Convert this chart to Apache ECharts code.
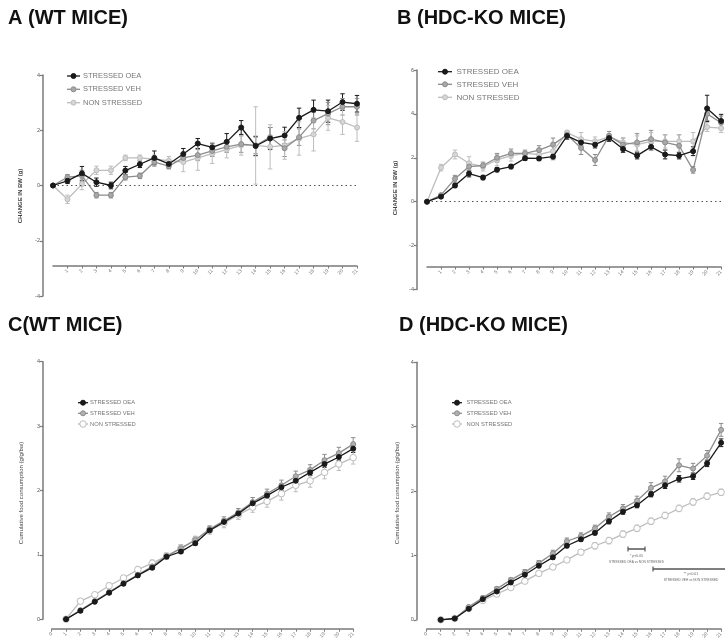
<!DOCTYPE html>
<html>
<head>
<meta charset="utf-8">
<script src="https://cdn.jsdelivr.net/npm/echarts@6/dist/echarts.min.js"></script>
<style>html,body{margin:0;padding:0;background:#fff;}#c{width:725px;height:641px;}</style>
</head>
<body>
<div id="c"></div>
<script>
// ---------- data ----------
const days = ['0','1','2','3','4','5','6','7','8','9','10','11','12','13','14','15','16','17','18','19','20','21'];
const seriesNames = ['STRESSED OEA', 'STRESSED VEH', 'NON STRESSED'];

// Panel A (WT, change in BW, g)
const aOEA = [0,0.17,0.44,0.12,0.0,0.54,0.77,1.0,0.78,1.14,1.52,1.38,1.58,2.1,1.43,1.7,1.81,2.45,2.74,2.69,3.02,2.96];
const aOEAerr = [0,0.1,0.25,0.15,0.12,0.15,0.12,0.25,0.15,0.2,0.18,0.15,0.3,0.25,0.35,0.4,0.3,0.35,0.35,0.4,0.3,0.3];
const aVEH = [0,0.3,0.35,-0.35,-0.35,0.3,0.35,0.85,0.7,1.0,1.1,1.25,1.4,1.5,1.45,1.75,1.35,1.75,2.35,2.6,2.85,2.85];
const aVEHerr = [0,0.1,0.2,0.1,0.1,0.1,0.1,0.15,0.1,0.15,0.2,0.2,0.2,0.3,0.3,0.35,0.3,0.3,0.3,0.4,0.3,0.3];
const aNON = [0,-0.5,0.05,0.55,0.55,1.0,1.0,0.95,0.9,0.85,1.0,1.15,1.3,1.45,1.45,1.4,1.45,1.7,1.85,2.45,2.3,2.1];
const aNONerr = [0,0.15,0.2,0.15,0.15,0.1,0.1,0.15,0.15,0.35,0.45,0.35,0.3,0.35,1.4,0.8,0.5,0.6,0.6,0.45,0.45,0.5];

// Panel B (HDC-KO, change in BW, g)
const bOEA = [0,0.23,0.74,1.28,1.1,1.46,1.6,1.98,1.97,2.05,3.0,2.7,2.6,2.9,2.4,2.1,2.5,2.15,2.1,2.3,4.25,3.68];
const bOEAerr = [0,0.05,0.1,0.15,0.1,0.1,0.1,0.1,0.1,0.1,0.15,0.15,0.15,0.15,0.15,0.15,0.15,0.2,0.15,0.2,0.6,0.3];
const bVEH = [0,0.3,1.05,1.6,1.65,2.0,2.2,2.2,2.35,2.6,3.05,2.45,1.9,3.0,2.6,2.7,2.85,2.7,2.55,1.45,4.0,3.6];
const bVEHerr = [0,0.05,0.15,0.2,0.15,0.2,0.2,0.15,0.2,0.3,0.15,0.3,0.25,0.2,0.3,0.4,0.4,0.35,0.5,0.15,0.3,0.3];
const bNON = [0,1.55,2.15,1.75,1.6,1.9,2.1,2.2,2.15,2.3,3.15,2.85,2.75,2.95,2.7,2.6,2.75,2.75,2.75,2.75,3.4,3.35];
const bNONerr = [0,0.15,0.2,0.3,0.2,0.25,0.25,0.1,0.2,0.4,0.1,0.3,0.2,0.15,0.2,0.4,0.4,0.3,0.3,0.4,0.2,0.2];

// Panel C (WT, cumulative food consumption)
const cOEA = [null,0,0.13,0.27,0.41,0.55,0.68,0.8,0.97,1.05,1.18,1.38,1.51,1.64,1.8,1.92,2.05,2.15,2.28,2.41,2.52,2.65];
const cOEAerr = [0,0,0.02,0.02,0.02,0.02,0.03,0.03,0.03,0.03,0.03,0.03,0.04,0.04,0.04,0.04,0.05,0.05,0.05,0.05,0.05,0.06];
const cVEH = [null,0,0.14,0.28,0.42,0.56,0.69,0.82,0.98,1.1,1.23,1.4,1.53,1.66,1.82,1.95,2.08,2.22,2.32,2.47,2.58,2.72];
const cVEHerr = [0,0,0.02,0.03,0.03,0.03,0.04,0.04,0.04,0.05,0.05,0.05,0.06,0.06,0.07,0.07,0.08,0.08,0.08,0.09,0.09,0.1];
const cNON = [null,0,0.28,0.38,0.52,0.64,0.77,0.87,0.98,1.1,1.23,1.38,1.49,1.62,1.74,1.83,1.95,2.08,2.15,2.28,2.41,2.51];
const cNONerr = [0,0,0.03,0.03,0.04,0.04,0.05,0.05,0.05,0.06,0.06,0.06,0.07,0.07,0.08,0.09,0.1,0.1,0.1,0.1,0.1,0.1];

// Panel D (HDC-KO, cumulative food consumption)
const dOEA = [null,0,0.02,0.17,0.32,0.44,0.58,0.7,0.84,0.97,1.15,1.25,1.35,1.53,1.68,1.78,1.95,2.09,2.19,2.23,2.43,2.75];
const dOEAerr = [0,0,0.01,0.02,0.02,0.02,0.03,0.03,0.03,0.03,0.03,0.03,0.03,0.04,0.04,0.04,0.04,0.05,0.05,0.05,0.05,0.06];
const dVEH = [null,0,0.02,0.2,0.34,0.48,0.62,0.74,0.88,1.03,1.22,1.3,1.42,1.6,1.73,1.85,2.05,2.15,2.4,2.35,2.55,2.95];
const dVEHerr = [0,0,0.01,0.02,0.03,0.03,0.03,0.04,0.04,0.05,0.05,0.05,0.05,0.06,0.06,0.07,0.08,0.08,0.1,0.08,0.08,0.1];
const dNON = [null,0,0.02,0.18,0.3,0.4,0.5,0.6,0.72,0.82,0.93,1.05,1.15,1.23,1.33,1.42,1.53,1.62,1.73,1.83,1.92,1.98];
const dNONerr = [0,0,0.01,0.02,0.02,0.03,0.03,0.03,0.04,0.04,0.04,0.04,0.05,0.05,0.05,0.05,0.05,0.05,0.05,0.05,0.05,0.05];

// ---------- styles ----------
const COL = ['#1a1a1a', '#8c8c8c', '#bdbdbd'];
const FONT = 'Liberation Sans, Arial, sans-serif';

const grids = [], xAxes = [], yAxes = [], series = [], graphics = [];

function errSeries(gi, vals, errs, color) {
  const data = [];
  vals.forEach((v, i) => { if (v != null && errs[i] > 0) data.push([i, v, errs[i]]); });
  return {
    type: 'custom', xAxisIndex: gi, yAxisIndex: gi, z: 2, silent: true,
    encode: { x: 0, y: 1 },
    data: data,
    renderItem: function (params, api) {
      const i = api.value(0), v = api.value(1), e = api.value(2);
      const p1 = api.coord([i, v + e]), p2 = api.coord([i, v - e]);
      const w = 2.2;
      const st = { stroke: color, lineWidth: 1 };
      return { type: 'group', children: [
        { type: 'line', shape: { x1: p1[0], y1: p1[1], x2: p2[0], y2: p2[1] }, style: st },
        { type: 'line', shape: { x1: p1[0] - w, y1: p1[1], x2: p1[0] + w, y2: p1[1] }, style: st },
        { type: 'line', shape: { x1: p2[0] - w, y1: p2[1], x2: p2[0] + w, y2: p2[1] }, style: st }
      ]};
    }
  };
}

function addPanel(cfg) {
  const gi = grids.length;
  grids.push({ left: cfg.left, top: cfg.top, width: cfg.width, height: cfg.height, containLabel: false });
  xAxes.push({
    type: 'category', gridIndex: gi, data: days, boundaryGap: false, position: 'bottom',
    offset: cfg.xOffset,
    axisLine: { show: true, onZero: false, lineStyle: { color: '#7a7a7a', width: 1.5 } },
    axisTick: { show: true, inside: false, length: 2.5, lineStyle: { color: '#7a7a7a', width: 1 },
      interval: cfg.skipZero ? function (i) { return i > 0; } : 0 },
    axisLabel: { show: true, fontSize: 5, color: '#777', rotate: 45, margin: 4, fontFamily: FONT,
      interval: cfg.skipZero ? function (i) { return i > 0; } : 0 },
    splitLine: { show: false }
  });
  yAxes.push({
    type: 'value', gridIndex: gi, min: cfg.ymin, max: cfg.ymax, interval: cfg.yint,
    offset: cfg.yOffset,
    axisLine: { show: true, lineStyle: { color: '#7a7a7a', width: 1.5 } },
    axisTick: { show: true, inside: false, length: 3, lineStyle: { color: '#7a7a7a', width: 1.2 } },
    axisLabel: { fontSize: 5.5, color: '#555', margin: 3, fontFamily: FONT },
    splitLine: { show: false }
  });
  const sets = cfg.sets;
  sets.forEach((s, k) => series.push(errSeries(gi, s.v, s.e, COL[k])));
  sets.forEach((s, k) => {
    const ser = {
      type: 'line', name: seriesNames[k], xAxisIndex: gi, yAxisIndex: gi, z: 3 + (2 - k),
      data: s.v, connectNulls: false, symbol: 'circle', symbolSize: cfg.sym[k],
      lineStyle: { color: COL[k], width: 1.3 },
      itemStyle: { color: cfg.fill[k], borderColor: COL[k], borderWidth: 1 },
      emphasis: { disabled: true }
    };
    if (k === 0 && cfg.zeroLine) {
      ser.markLine = {
        silent: true, symbol: 'none', label: { show: false },
        lineStyle: { type: [1.5, 3], color: '#555', width: 1 },
        data: [{ yAxis: 0 }]
      };
    }
    series.push(ser);
  });
  // legend
  const L = cfg.legend;
  sets.forEach((s, k) => {
    const y = L.y[k];
    graphics.push({ type: 'line', shape: { x1: L.x1, y1: y, x2: L.x2, y2: y }, style: { stroke: COL[k], lineWidth: 1.3 }, z: 10 });
    graphics.push({ type: 'circle', shape: { cx: (L.x1 + L.x2) / 2, cy: y, r: cfg.sym[k] / 2 }, style: { fill: cfg.fill[k], stroke: COL[k], lineWidth: 1 }, z: 11 });
    graphics.push({ type: 'text', x: L.tx, y: y, style: { text: seriesNames[k], fontSize: L.fs, fill: '#777', fontFamily: FONT, verticalAlign: 'middle', align: 'left' }, z: 10 });
  });
  // y axis title
  graphics.push({ type: 'text', x: cfg.yt.x, y: cfg.yt.y, rotation: Math.PI / 2,
    style: { text: cfg.yt.text, fontSize: cfg.yt.fs, fontWeight: cfg.yt.bold ? 'bold' : 'normal', fill: '#444', fontFamily: FONT, align: 'center', verticalAlign: 'middle' } });
  // panel title
  graphics.push({ type: 'text', x: cfg.title.x, y: cfg.title.y,
    style: { text: cfg.title.text, fontSize: 20, fontWeight: 'bold', fill: '#111', fontFamily: FONT, align: 'left', verticalAlign: 'middle' } });
}

addPanel({
  left: 53, top: 75, width: 304, height: 221, ymin: -4, ymax: 4, yint: 2, yOffset: 10, xOffset: -30,
  skipZero: true, zeroLine: true,
  sets: [{ v: aOEA, e: aOEAerr }, { v: aVEH, e: aVEHerr }, { v: aNON, e: aNONerr }],
  sym: [5, 5, 5], fill: ['#1a1a1a', '#a8a8a8', '#d6d6d6'],
  legend: { x1: 67, x2: 80, tx: 83, y: [76, 89.3, 102.7], fs: 7.5 },
  yt: { x: 20, y: 196, text: 'CHANGE IN BW (g)', fs: 6, bold: true },
  title: { x: 8, y: 18, text: 'A (WT MICE)' }
});
addPanel({
  left: 427, top: 70, width: 301, height: 219.5, ymin: -4, ymax: 6, yint: 2, yOffset: 10, xOffset: -22.5,
  skipZero: true, zeroLine: true,
  sets: [{ v: bOEA, e: bOEAerr }, { v: bVEH, e: bVEHerr }, { v: bNON, e: bNONerr }],
  sym: [5, 5, 5], fill: ['#1a1a1a', '#a8a8a8', '#d6d6d6'],
  legend: { x1: 438, x2: 452, tx: 456.5, y: [71.7, 84.3, 97.3], fs: 8 },
  yt: { x: 395, y: 188, text: 'CHANGE IN BW (g)', fs: 6, bold: true },
  title: { x: 397, y: 18, text: 'B (HDC-KO MICE)' }
});
addPanel({
  left: 51.7, top: 361.7, width: 301.5, height: 260, ymin: 0, ymax: 4, yint: 1, yOffset: 8.7, xOffset: 10,
  skipZero: false, zeroLine: false,
  sets: [{ v: cOEA, e: cOEAerr }, { v: cVEH, e: cVEHerr }, { v: cNON, e: cNONerr }],
  sym: [5, 5, 6.5], fill: ['#1a1a1a', '#b0b0b0', '#ffffff'],
  legend: { x1: 78, x2: 88, tx: 90, y: [402.7, 413.3, 424], fs: 5.8 },
  yt: { x: 21, y: 493, text: 'Cumulative food consumption (g/g/bw)', fs: 6, bold: false },
  title: { x: 8, y: 325, text: 'C(WT MICE)' }
});
addPanel({
  left: 426.7, top: 362.3, width: 302, height: 260, ymin: 0, ymax: 4, yint: 1, yOffset: 10, xOffset: 9.4,
  skipZero: false, zeroLine: false,
  sets: [{ v: dOEA, e: dOEAerr }, { v: dVEH, e: dVEHerr }, { v: dNON, e: dNONerr }],
  sym: [5, 5, 6.5], fill: ['#1a1a1a', '#b0b0b0', '#ffffff'],
  legend: { x1: 452, x2: 462, tx: 466.5, y: [402.7, 413.3, 424], fs: 5.8 },
  yt: { x: 397, y: 493, text: 'Cumulative food consumption (g/g/bw)', fs: 6, bold: false },
  title: { x: 399, y: 325, text: 'D (HDC-KO MICE)' }
});

// significance brackets in D
const brk = '#555';
graphics.push({ type: 'line', shape: { x1: 628, y1: 549, x2: 645, y2: 549 }, style: { stroke: brk, lineWidth: 1.5 } });
graphics.push({ type: 'line', shape: { x1: 628, y1: 546.5, x2: 628, y2: 551.5 }, style: { stroke: brk, lineWidth: 1.2 } });
graphics.push({ type: 'line', shape: { x1: 645, y1: 546.5, x2: 645, y2: 551.5 }, style: { stroke: brk, lineWidth: 1.2 } });
graphics.push({ type: 'text', x: 636.5, y: 556, style: { text: '* p<0.05', fontSize: 3.5, fill: '#666', fontFamily: FONT, align: 'center', verticalAlign: 'middle' } });
graphics.push({ type: 'text', x: 636.5, y: 562, style: { text: 'STRESSED OEA vs NON STRESSED', fontSize: 3.2, fill: '#666', fontFamily: FONT, align: 'center', verticalAlign: 'middle' } });
graphics.push({ type: 'line', shape: { x1: 653, y1: 569, x2: 735, y2: 569 }, style: { stroke: brk, lineWidth: 1.5 } });
graphics.push({ type: 'line', shape: { x1: 653, y1: 566.5, x2: 653, y2: 571.5 }, style: { stroke: brk, lineWidth: 1.2 } });
graphics.push({ type: 'text', x: 691, y: 574.5, style: { text: '** p<0.01', fontSize: 3.5, fill: '#666', fontFamily: FONT, align: 'center', verticalAlign: 'middle' } });
graphics.push({ type: 'text', x: 691, y: 580, style: { text: 'STRESSED VEH vs NON STRESSED', fontSize: 3.2, fill: '#666', fontFamily: FONT, align: 'center', verticalAlign: 'middle' } });

const chart = echarts.init(document.getElementById('c'), null, { renderer: 'canvas' });
chart.setOption({
  animation: false,
  backgroundColor: '#ffffff',
  grid: grids, xAxis: xAxes, yAxis: yAxes, series: series,
  graphic: graphics
});
</script>
</body>
</html>
